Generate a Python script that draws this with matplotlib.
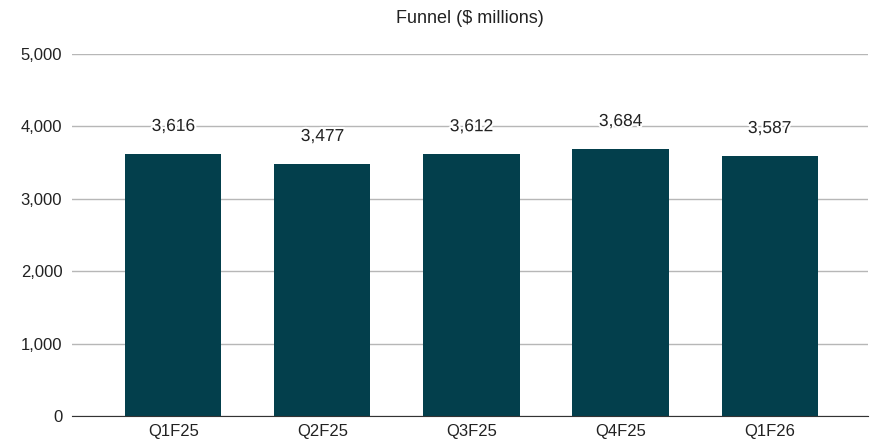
import matplotlib
matplotlib.use("Agg")
from matplotlib import pyplot as plt
from matplotlib import patheffects as pe
from matplotlib.ticker import FuncFormatter

quarters = ["Q1F25", "Q2F25", "Q3F25", "Q4F25", "Q1F26"]
funnel = [3616, 3477, 3612, 3684, 3587]

plt.rcParams["font.family"] = ["Liberation Sans", "DejaVu Sans"]

fig = plt.figure(figsize=(8.79, 4.47), dpi=100)
ax = fig.add_axes([72 / 879, 31 / 447, 796 / 879, 362 / 447])

ax.bar(range(len(quarters)), funnel, width=0.645, color="#033f4c", zorder=3)

for i, v in enumerate(funnel):
    ax.annotate(f"{v:,}", (i, v), xytext=(0, 20), textcoords="offset points",
                ha="center", va="center", fontsize=12.5, color="#222222", zorder=4,
                path_effects=[pe.withStroke(linewidth=3, foreground="white")])

ax.set_xlim(-0.68, len(quarters) - 1 + 0.66)
ax.set_ylim(0, 5000)
ax.set_yticks(range(0, 5001, 1000))
ax.yaxis.set_major_formatter(FuncFormatter(lambda y, _: f"{int(y):,}"))
ax.set_xticks(range(len(quarters)))
ax.set_xticklabels(quarters)

ax.grid(axis="y", color="#b7b7b7", linewidth=1, zorder=0)
for side in ("top", "right", "left"):
    ax.spines[side].set_visible(False)
ax.spines["bottom"].set_color("#333333")
ax.spines["bottom"].set_zorder(5)
ax.tick_params(length=0, labelsize=12, colors="#222222")
ax.tick_params(axis="y", pad=7)
ax.tick_params(axis="x", pad=6)

ax.set_title("Funnel ($ millions)", fontsize=13, color="#222222", pad=22)

fig.savefig("out.png", dpi=100)
